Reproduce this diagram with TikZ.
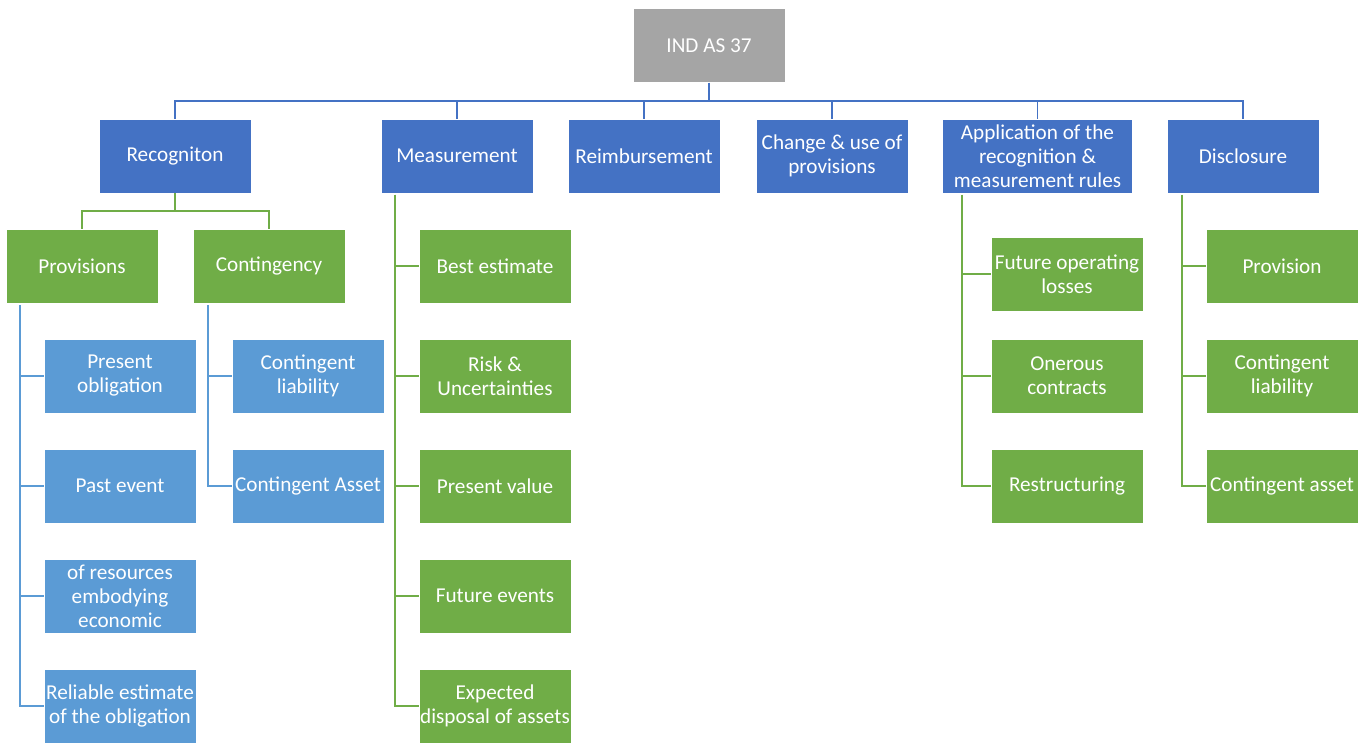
\documentclass[tikz,border=0pt]{standalone}
\usepackage{fontspec}
\setmainfont{Carlito}
\definecolor{darkblue}{HTML}{4472C4}
\definecolor{leafgreen}{HTML}{70AD47}
\definecolor{lightblue}{HTML}{5B9BD5}
\definecolor{rootgray}{HTML}{A5A5A5}
\begin{document}
\begin{tikzpicture}[x=1pt, y=-1pt,
  box/.style={draw=white, thin, text=white, align=center, minimum width=152pt, minimum height=74pt, inner sep=1pt, font=\fontsize{21.2}{24}\selectfont},
  rootbox/.style={box, fill=rootgray},
  mainbox/.style={box, fill=darkblue},
  greenbox/.style={box, fill=leafgreen},
  paleblue/.style={box, fill=lightblue},
  topline/.style={darkblue, line width=1.8pt},
  greenline/.style={leafgreen, line width=1.8pt},
  paleline/.style={lightblue, line width=1.8pt}]
  \useasboundingbox (0,0) rectangle (1370,743);

  % root
  \node[rootbox] (ind) at (709,45.5) {IND AS 37};

  % first level
  \node[mainbox] (rec) at (175,156) {Recogniton};
  \node[mainbox] (meas) at (457,156) {Measurement};
  \node[mainbox] (reimb) at (644,156) {Reimbursement};
  \node[mainbox] (chg) at (832,156) {Change \& use of\\provisions};
  \node[mainbox, minimum width=190pt] (app) at (1037.5,156) {Application of the\\recognition \&\\measurement rules};
  \node[mainbox] (disc) at (1243,156) {Disclosure};

  \coordinate (bar) at (709,101);
  \draw[topline] (ind.south) -- (bar);
  \foreach \n in {rec,meas,reimb,chg,app,disc}
    \draw[topline] (bar) -| (\n.north);

  % recognition
  \node[greenbox] (prov) at (82,266) {Provisions};
  \node[greenbox] (cont) at (269,266) {Contingency};
  \coordinate (rbar) at (175,211);
  \draw[greenline] (rec.south) -- (rbar);
  \draw[greenline] (rbar) -| (prov.north);
  \draw[greenline] (rbar) -| (cont.north);

  \node[paleblue] (po) at (120,376) {Present\\obligation};
  \node[paleblue] (pe) at (120,486) {Past event};
  \node[paleblue] (res) at (120,596) {of resources\\embodying\\economic};
  \node[paleblue] (rel) at (120,706) {Reliable estimate\\of the obligation};
  \coordinate (pline) at (20,305);
  \foreach \n in {po,pe,res,rel}
    \draw[paleline] (pline) |- (\n.west);

  \node[paleblue] (cl) at (308,376) {Contingent\\liability};
  \node[paleblue] (ca) at (308,486) {Contingent Asset};
  \coordinate (cline) at (208,305);
  \foreach \n in {cl,ca}
    \draw[paleline] (cline) |- (\n.west);

  % measurement
  \node[greenbox] (best) at (495,266) {Best estimate};
  \node[greenbox] (risk) at (495,376) {Risk \&\\Uncertainties};
  \node[greenbox] (pv) at (495,486) {Present value};
  \node[greenbox] (fe) at (495,596) {Future events};
  \node[greenbox] (exp) at (495,706) {Expected\\disposal of assets};
  \coordinate (mline) at (395,195);
  \foreach \n in {best,risk,pv,fe,exp}
    \draw[greenline] (mline) |- (\n.west);

  % application
  \node[greenbox] (fol) at (1067,274) {Future operating\\losses};
  \node[greenbox] (oc) at (1067,376) {Onerous\\contracts};
  \node[greenbox] (rs) at (1067,486) {Restructuring};
  \coordinate (aline) at (962,195);
  \foreach \n in {fol,oc,rs}
    \draw[greenline] (aline) |- (\n.west);

  % disclosure
  \node[greenbox] (dp) at (1282,266) {Provision};
  \node[greenbox] (dl) at (1282,376) {Contingent\\liability};
  \node[greenbox] (da) at (1282,486) {Contingent asset};
  \coordinate (dline) at (1182,195);
  \foreach \n in {dp,dl,da}
    \draw[greenline] (dline) |- (\n.west);
\end{tikzpicture}
\end{document}
